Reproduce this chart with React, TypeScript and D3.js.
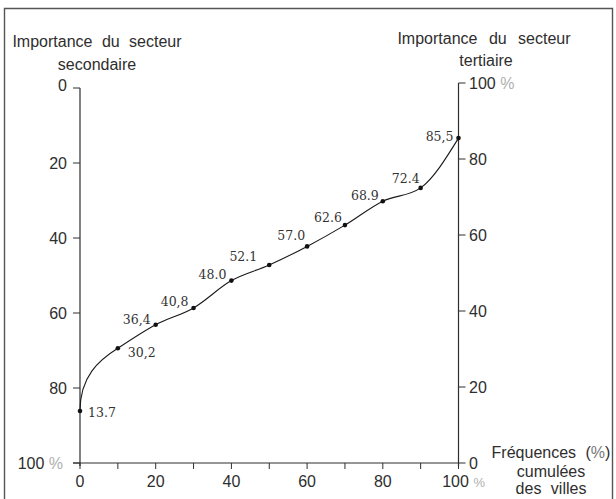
import React from "react";
import * as d3 from "d3";

const freqs = [0, 10, 20, 30, 40, 50, 60, 70, 80, 90, 100];
const tertiary = [13.7, 30.2, 36.4, 40.8, 48.0, 52.1, 57.0, 62.6, 68.9, 72.4, 85.5];
const pointLabels = ["13.7", "30,2", "36,4", "40,8", "48.0", "52.1", "57.0", "62.6", "68.9", "72.4", "85,5"];
const labelOffsets: [number, number, string][] = [
  [8, 6, "start"], [10, 9, "start"], [-5, -1, "end"], [-5, -2, "end"], [-5, -2, "end"],
  [-12, -4, "end"], [-2, -6, "end"], [-3, -3, "end"], [-4, -1, "end"], [-1, -5, "end"], [-5, 3, "end"],
];
const leftTicks = [0, 20, 40, 60, 80, 100];
const rightTicks = [0, 20, 40, 60, 80, 100];
const xMinorTicks = [0, 10, 20, 30, 40, 50, 60, 70, 80, 90, 100];
const xLabelTicks = [0, 20, 40, 60, 80, 100];

const W = 616, H = 499;
const X0 = 80, X1 = 458.5;
const x = d3.scaleLinear().domain([0, 100]).range([X0, X1]);
const yT = d3.scaleLinear().domain([0, 100]).range([463, 83]);
const yS = d3.scaleLinear().domain([0, 100]).range([88, 463]);

const sans = "'Liberation Sans', Arial, sans-serif";
const serif = "'DejaVu Serif', serif";
const ink = "#2e2e2e";
const faint = "#b0b0b0";

export default function App() {
  const pts = freqs.map((f, i) => [x(f), yT(tertiary[i])] as [number, number]);
  // first segment: leaves the first point vertically, joins the rest smoothly
  const [p0, p1, p2] = pts;
  const h = p1[0] - p0[0];
  const m1 = (p2[1] - p1[1]) / (p2[0] - p1[0]);
  const first = `M${p0[0]},${p0[1]}C${p0[0]},${p0[1] - 0.55 * (p0[1] - p1[1])},${p1[0] - 0.5 * h},${p1[1] - 0.5 * h * m1},${p1[0]},${p1[1]}`;
  const rest = (d3.line().curve(d3.curveMonotoneX)(pts.slice(1)) || "").replace(/^M[^C]*/, "");
  const line = first + rest;
  const axisBottom = yT(0);
  return (
    <svg width={W} height={H} style={{ position: "absolute", left: 0, top: 0, background: "#fff" }}>
      <rect x={0} y={0} width={W} height={H} fill="#fff" />
      {/* frame */}
      <path d={`M4.5,${H} V8.5 H612.5 V${H}`} fill="none" stroke="#555" strokeWidth={1.4} />
      {/* titles */}
      <g fontFamily={sans} fontSize={16} fill={ink} textAnchor="middle" style={{ wordSpacing: "5px" }}>
        <text x={97} y={47}>Importance du secteur</text>
        <text x={97} y={70}>secondaire</text>
        <text x={484} y={44} style={{ wordSpacing: "7px" }}>Importance du secteur</text>
        <text x={486} y={66}>tertiaire</text>
        <text x={551} y={458}>Fréquences (<tspan fill="#777">%</tspan>)</text>
        <text x={551} y={477}>cumulées</text>
        <text x={551} y={494}>des villes</text>
      </g>
      {/* left axis */}
      <line x1={X0} x2={X0} y1={yS(0)} y2={axisBottom + 3} stroke={ink} strokeWidth={1.2} />
      {leftTicks.map((t) => (
        <g key={"l" + t}>
          <line x1={X0 - 7} x2={X0} y1={yS(t)} y2={yS(t)} stroke={ink} strokeWidth={1} />
          <text x={t === 100 ? 63 : 67} y={yS(t) - (t === 0 ? 3 : 0)} dy="0.36em" textAnchor="end" fontFamily={sans} fontSize={16} fill={ink}>
            {t === 100 ? <>100 <tspan fill={faint}>%</tspan></> : t}
          </text>
        </g>
      ))}
      {/* right axis */}
      <line x1={X1} x2={X1} y1={yT(100)} y2={axisBottom + 3} stroke={ink} strokeWidth={1.2} />
      {rightTicks.map((t) => (
        <g key={"r" + t}>
          <line x1={X1} x2={X1 + 7} y1={yT(t)} y2={yT(t)} stroke={ink} strokeWidth={1} />
          <text x={469} y={yT(t)} dy="0.36em" textAnchor="start" fontFamily={sans} fontSize={16} fill={ink}>
            {t === 100 ? <>100 <tspan fill={faint}>%</tspan></> : t}
          </text>
        </g>
      ))}
      {/* x axis */}
      <line x1={X0 - 7} x2={X1} y1={axisBottom} y2={axisBottom} stroke={ink} strokeWidth={1.2} />
      {xMinorTicks.map((t) => (
        <line key={"xm" + t} x1={x(t)} x2={x(t)} y1={axisBottom} y2={axisBottom + 6} stroke={ink} strokeWidth={1} />
      ))}
      {xLabelTicks.map((t) => (
        <g key={"xl" + t}>
          <text x={x(t) - (t === 100 ? 3 : 0)} y={487} textAnchor="middle" fontFamily={sans} fontSize={16} fill={ink}>
            {t}
          </text>
          {t === 100 && (
            <text x={x(t) + 15} y={487} fontFamily={sans} fontSize={13} fill={faint}>%</text>
          )}
        </g>
      ))}
      {/* curve */}
      <path d={line} fill="none" stroke="#1a1a1a" strokeWidth={1.1} />
      {pts.map((p, i) => (
        <g key={"p" + i}>
          <circle cx={p[0]} cy={p[1]} r={2.3} fill="#111" />
          <text
            x={p[0] + labelOffsets[i][0]}
            y={p[1] + labelOffsets[i][1]}
            textAnchor={labelOffsets[i][2] as any}
            fontFamily={serif}
            fontSize={12.5}
            fill="#333"
          >
            {pointLabels[i]}
          </text>
        </g>
      ))}
    </svg>
  );
}
